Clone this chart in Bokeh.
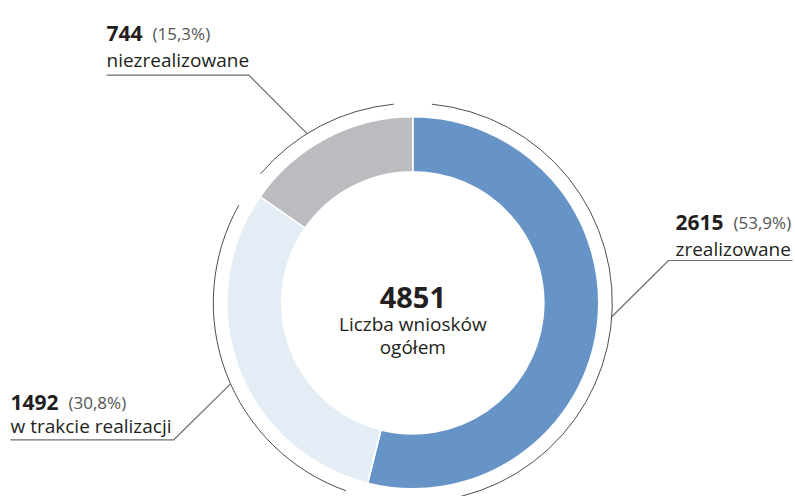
import math
from bokeh.plotting import figure
from bokeh.models import ColumnDataSource
from bokeh.core.properties import value
from bokeh.embed import file_html
from bokeh.resources import INLINE

# ---- data ----
categories = ["zrealizowane", "w trakcie realizacji", "niezrealizowane"]
counts = [2615, 1492, 744]
shares = ["(53,9%)", "(30,8%)", "(15,3%)"]
colors = ["#6794c6", "#e4edf6", "#bbbcbf"]
total_label = "Liczba wniosków"
total_label2 = "ogółem"
total = sum(counts)

# ---- layout (reference pixel space, y flipped) ----
REF_H = 496
def Y(y):
    return REF_H - y

CX, CY = 412.3, Y(302.3)
R_OUT, R_IN, R_RING = 186, 131, 199.5
GAP = 5.5  # degrees of gap in the outer ring around segment borders

# leader geometry per category: angle on ring, knee point, end x
lead_angle = [-4.0, 204.0, 122.0]
knee = [(668, 260), (173.3, 439.3), (248.3, 74.7)]
lead_end_x = [792, 10, 106]
# label positions (number baseline x, y; share x; name baseline y)
num_pos = [(675, 221.7), (10, 401.7), (106, 33.3)]
share_x = [733, 68, 152]
name_y = [248.3, 425.0, 59.3]

# angles (anticlockwise from +x), starting at 12 o'clock going clockwise
starts, ends = [], []
cum = 0.0
for c in counts:
    a0 = cum / total * 360
    cum += c
    a1 = cum / total * 360
    starts.append(math.radians(90 - a1))
    ends.append(math.radians(90 - a0))

p = figure(width=795, height=496, x_range=(0, 795), y_range=(0, 496),
           output_backend="svg", toolbar_location=None, min_border=0)
p.axis.visible = False
p.grid.visible = False
p.outline_line_color = None
p.background_fill_color = "white"
p.border_fill_color = "white"

src = ColumnDataSource(dict(cat=categories, start=starts, end=ends, color=colors))
p.annular_wedge(x=CX, y=CY, inner_radius=R_IN, outer_radius=R_OUT,
                start_angle="start", end_angle="end", fill_color="color",
                line_color="white", line_width=1.6, source=src)

# outer thin ring segments
g = math.radians(GAP)
p.arc(x=CX, y=CY, radius=R_RING,
      start_angle=[s + g for s in starts], end_angle=[e - g for e in ends],
      line_color="#4d4d4d", line_width=1)

# leader lines
xs, ys = [], []
for ang, (kx, ky), ex in zip(lead_angle, knee, lead_end_x):
    a = math.radians(ang)
    px = CX + R_RING * math.cos(a)
    py = CY + R_RING * math.sin(a)
    xs.append([px, kx, ex])
    ys.append([py, Y(ky), Y(ky)])
p.multi_line(xs=xs, ys=ys, line_color="#6d6e71", line_width=1.2)

font = value("Open Sans")
# labels
p.text(x=[q[0] for q in num_pos], y=[Y(q[1]) for q in num_pos],
       text=[str(c) for c in counts], text_font=font, text_font_size="21px",
       text_font_style="bold", text_color="#231f20", text_baseline="alphabetic")
p.text(x=share_x, y=[Y(q[1]) for q in num_pos], text=shares, text_font=font,
       text_font_size="17px", text_color="#555555", text_baseline="alphabetic")
p.text(x=[q[0] for q in num_pos], y=[Y(v) for v in name_y], text=categories,
       text_font=font, text_font_size="19px", text_color="#231f20",
       text_baseline="alphabetic")

# centre
p.text(x=[CX], y=[Y(296.7)], text=[str(total)], text_font=font,
       text_font_size="29px", text_font_style="bold", text_color="#231f20",
       text_align="center", text_baseline="alphabetic")
p.text(x=[CX, CX], y=[Y(323.3), Y(346.7)], text=[total_label, total_label2],
       text_font=font, text_font_size="19px", text_color="#231f20",
       text_align="center", text_baseline="alphabetic")

open("out.html", "w").write(file_html(p, INLINE))
